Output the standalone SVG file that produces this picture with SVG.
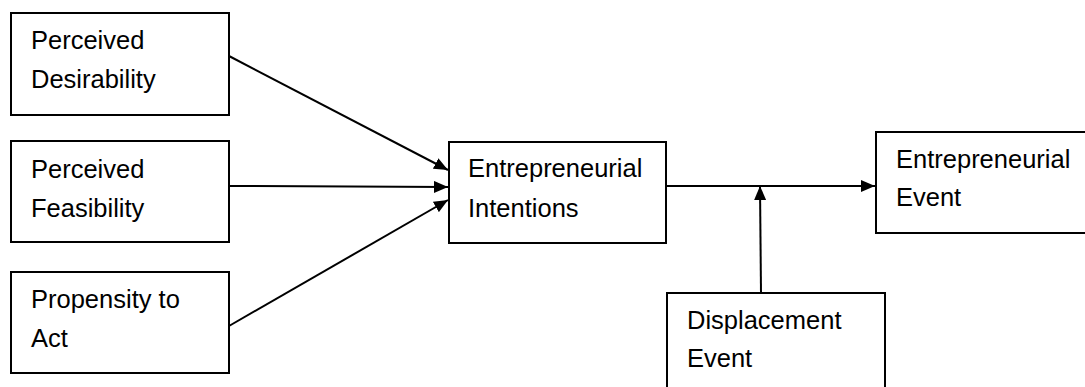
<svg xmlns="http://www.w3.org/2000/svg" width="1085" height="387" viewBox="0 0 1085 387">
<style>
.box{fill:#fff;stroke:#000;stroke-width:2}
.t{font-family:"Liberation Sans",Arial,sans-serif;font-size:25.5px;fill:#000}
.c{stroke:#000;stroke-width:2;fill:none}
</style>
<defs>
<marker id="ah" viewBox="0 0 14 12" refX="14" refY="6" markerWidth="14" markerHeight="12" markerUnits="userSpaceOnUse" orient="auto">
<path d="M0,0 L14,6 L0,12 Z" fill="#000"/>
</marker>
</defs>
<rect width="1085" height="387" fill="#fff"/>
<g id="connectors">
<line class="c" x1="229" y1="56" x2="448" y2="170" marker-end="url(#ah)"/>
<line class="c" x1="229" y1="186" x2="448" y2="187" marker-end="url(#ah)"/>
<line class="c" x1="229" y1="326" x2="448" y2="200" marker-end="url(#ah)"/>
<line class="c" x1="666" y1="186" x2="875" y2="186" marker-end="url(#ah)"/>
<line class="c" x1="761" y1="293" x2="760" y2="186" marker-end="url(#ah)"/>
</g>
<g id="perceived-desirability">
<rect class="box" x="11" y="13" width="218" height="102"/>
<text class="t" x="31" y="49">Perceived</text>
<text class="t" x="31" y="88">Desirability</text>
</g>
<g id="perceived-feasibility">
<rect class="box" x="11" y="141" width="218" height="101"/>
<text class="t" x="31" y="178">Perceived</text>
<text class="t" x="31" y="217">Feasibility</text>
</g>
<g id="propensity-to-act">
<rect class="box" x="11" y="272" width="218" height="101"/>
<text class="t" x="31" y="308">Propensity to</text>
<text class="t" x="31" y="347">Act</text>
</g>
<g id="entrepreneurial-intentions">
<rect class="box" x="449" y="142" width="217" height="101"/>
<text class="t" x="468" y="177">Entrepreneurial</text>
<text class="t" x="468" y="217">Intentions</text>
</g>
<g id="entrepreneurial-event">
<rect class="box" x="876" y="132" width="218" height="101"/>
<text class="t" x="896" y="168">Entrepreneurial</text>
<text class="t" x="896" y="206">Event</text>
</g>
<g id="displacement-event">
<rect class="box" x="667" y="293" width="218" height="101"/>
<text class="t" x="687" y="329">Displacement</text>
<text class="t" x="687" y="367">Event</text>
</g>
</svg>
